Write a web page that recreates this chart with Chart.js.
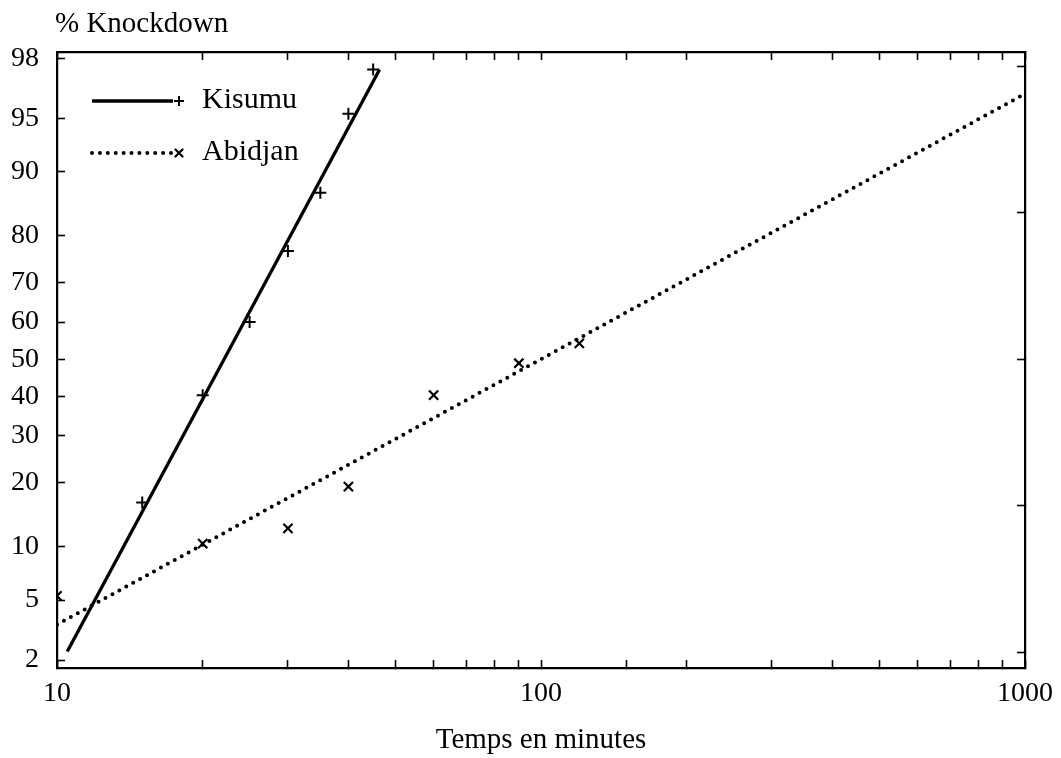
<!DOCTYPE html>
<html>
<head>
<meta charset="utf-8">
<title>Knockdown - Kisumu / Abidjan</title>
<script src="https://cdn.jsdelivr.net/npm/chart.js"></script>
<style>
  html, body { margin: 0; padding: 0; background: #fff; }
  #wrap { width: 1061px; height: 758px; position: relative; }
</style>
</head>
<body>
<div id="wrap"><canvas id="kdChart"></canvas></div>
<script>
// observed knockdown (%) against exposure time (min)
const kisumuTime = [15, 20, 25, 30, 35, 40, 45];
const kisumuPct = [16.4, 40.3, 60, 77, 87.2, 95.3, 97.6];
const abidjanTime = [10, 20, 30, 40, 60, 90, 120];
const abidjanPct = [5.3, 10.4, 12.4, 19.2, 40.3, 48.9, 54.3];

// fitted probit regression lines (end points)
const kisumuFitTime = [10.5, 46.4];
const kisumuFitPct = [2.3, 97.6];
const abidjanFitTime = [10, 1000];
const abidjanFitPct = [3.5, 96.5];

// axes
const yTicks = [2, 5, 10, 20, 30, 40, 50, 60, 70, 80, 90, 95, 98];
const yRange = [1.75, 98.2];
const probitUnitTicks = [3, 4, 5, 6, 7];
const xLabels = [10, 100, 1000];
const xRange = [10, 1000];

// inverse normal cdf (Acklam)
function probit(p) {
  const a = [-3.969683028665376e+01, 2.209460984245205e+02, -2.759285104469687e+02, 1.383577518672690e+02, -3.066479806614716e+01, 2.506628277459239e+00];
  const b = [-5.447609879822406e+01, 1.615858368580409e+02, -1.556989798598866e+02, 6.680131188771972e+01, -1.328068155288572e+01];
  const c = [-7.784894002430293e-03, -3.223964580411365e-01, -2.400758277161838e+00, -2.549732539343734e+00, 4.374664141464968e+00, 2.938163982698783e+00];
  const d = [7.784695709041462e-03, 3.224671290700398e-01, 2.445134137142996e+00, 3.754408661907416e+00];
  const lo = 0.02425;
  if (p < lo) {
    const q = Math.sqrt(-2 * Math.log(p));
    return (((((c[0]*q+c[1])*q+c[2])*q+c[3])*q+c[4])*q+c[5]) / ((((d[0]*q+d[1])*q+d[2])*q+d[3])*q+1);
  }
  if (p > 1 - lo) {
    const q = Math.sqrt(-2 * Math.log(1 - p));
    return -(((((c[0]*q+c[1])*q+c[2])*q+c[3])*q+c[4])*q+c[5]) / ((((d[0]*q+d[1])*q+d[2])*q+d[3])*q+1);
  }
  const q = p - 0.5, r = q * q;
  return (((((a[0]*r+a[1])*r+a[2])*r+a[3])*r+a[4])*r+a[5])*q / (((((b[0]*r+b[1])*r+b[2])*r+b[3])*r+b[4])*r+1);
}

function normCdf(z) {
  const t = 1 / (1 + 0.3275911 * Math.abs(z) / Math.SQRT2);
  const y = 1 - (((((1.061405429 * t - 1.453152027) * t) + 1.421413741) * t - 0.284496736) * t + 0.254829592) * t * Math.exp(-z * z / 2);
  return z >= 0 ? (1 + y) / 2 : (1 - y) / 2;
}

// percentage axis on probit paper
class ProbitScale extends Chart.LinearScale {
  configure() {
    super.configure();
    this._zlo = probit(this.min / 100);
    this._zhi = probit(this.max / 100);
  }
  getPixelForValue(v) {
    return this.getPixelForDecimal((probit(v / 100) - this._zlo) / (this._zhi - this._zlo));
  }
  getValueForPixel(px) {
    return 100 * normCdf(this._zlo + this.getDecimalForPixel(px) * (this._zhi - this._zlo));
  }
}
ProbitScale.id = 'probit';
ProbitScale.defaults = Chart.LinearScale.defaults;
Chart.register(ProbitScale);

const serif = '"Liberation Serif", "Times New Roman", serif';
const toPoints = (xs, ys) => xs.map((x, i) => ({ x: x, y: ys[i] }));

const legendItems = [
  { label: 'Kisumu', line: 1, mark: 0 },
  { label: 'Abidjan', line: 3, mark: 2 }
];

// y axis caption and in-plot legend
const overlayPlugin = {
  id: 'overlay',
  afterDraw(chart) {
    const { ctx, chartArea } = chart;
    const ds = chart.data.datasets;
    ctx.save();
    ctx.fillStyle = '#000';
    ctx.font = '29px ' + serif;
    ctx.textBaseline = 'alphabetic';
    ctx.textAlign = 'left';
    ctx.fillText('% Knockdown', chartArea.left - 2, chartArea.top - 20);

    legendItems.forEach((item, i) => {
      const y = chartArea.top + 49 + i * 52;
      const x0 = chartArea.left + 35;
      const x1 = chartArea.left + 120;
      const l = ds[item.line];
      ctx.strokeStyle = '#000';
      ctx.lineWidth = l.borderWidth;
      ctx.lineCap = l.borderCapStyle || 'butt';
      ctx.setLineDash(l.borderDash || []);
      ctx.beginPath();
      ctx.moveTo(x0, y);
      ctx.lineTo(x1 - 4, y);
      ctx.stroke();
      ctx.setLineDash([]);
      const m = ds[item.mark];
      ctx.lineWidth = m.pointBorderWidth;
      Chart.helpers.drawPoint(ctx, { pointStyle: m.pointStyle, radius: 5, borderWidth: m.pointBorderWidth, rotation: 0 }, x1 + 2, y);
      ctx.font = '30px ' + serif;
      ctx.textBaseline = 'middle';
      ctx.fillText(item.label, chartArea.left + 145, y - 1);
    });
    ctx.restore();
  }
};

const inwardGrid = {
  drawOnChartArea: false,
  drawTicks: true,
  tickLength: -8,
  tickColor: '#000',
  tickWidth: 1.6
};
const frame = { display: true, color: '#000', width: 2.2 };

new Chart(document.getElementById('kdChart'), {
  type: 'scatter',
  data: {
    datasets: [
      {
        label: 'Kisumu',
        data: toPoints(kisumuTime, kisumuPct),
        pointStyle: 'cross',
        pointRadius: 6,
        pointBorderWidth: 2,
        borderColor: '#000',
        backgroundColor: '#000',
        showLine: false
      },
      {
        label: 'Kisumu (fit)',
        data: toPoints(kisumuFitTime, kisumuFitPct),
        showLine: true,
        pointRadius: 0,
        borderColor: '#000',
        borderWidth: 3.3
      },
      {
        label: 'Abidjan',
        data: toPoints(abidjanTime, abidjanPct),
        pointStyle: 'crossRot',
        pointRadius: 6.5,
        pointBorderWidth: 2.2,
        borderColor: '#000',
        backgroundColor: '#000',
        showLine: false
      },
      {
        label: 'Abidjan (fit)',
        data: toPoints(abidjanFitTime, abidjanFitPct),
        showLine: true,
        pointRadius: 0,
        borderColor: '#000',
        borderWidth: 4,
        borderDash: [0, 7.9],
        borderCapStyle: 'round'
      }
    ]
  },
  options: {
    responsive: true,
    maintainAspectRatio: false,
    animation: false,
    layout: { padding: 0 },
    plugins: {
      legend: { display: false },
      tooltip: { enabled: false }
    },
    scales: {
      x: {
        type: 'logarithmic',
        position: 'bottom',
        min: xRange[0],
        max: xRange[1],
        grid: inwardGrid,
        border: frame,
        ticks: {
          autoSkip: false,
          maxRotation: 0,
          padding: 17,
          color: '#000',
          font: { family: serif, size: 28 },
          callback: v => xLabels.includes(v) ? String(v) : ''
        },
        title: {
          display: true,
          text: 'Temps en minutes',
          color: '#000',
          font: { family: serif, size: 29 },
          padding: 0
        },
        afterFit: s => { s.height = 90; s.paddingLeft = 0; s.paddingRight = 0; }
      },
      x2: {
        type: 'logarithmic',
        position: 'top',
        min: xRange[0],
        max: xRange[1],
        grid: inwardGrid,
        border: frame,
        ticks: { display: false, autoSkip: false },
        afterFit: s => { s.height = 52; s.paddingLeft = 0; s.paddingRight = 0; }
      },
      y: {
        type: 'probit',
        position: 'left',
        min: yRange[0],
        max: yRange[1],
        bounds: 'data',
        grid: inwardGrid,
        border: frame,
        afterBuildTicks: s => { s.ticks = yTicks.map(v => ({ value: v })); },
        ticks: {
          autoSkip: false,
          padding: 26,
          color: '#000',
          font: { family: serif, size: 28 },
          callback: v => String(v)
        },
        afterFit: s => { s.width = 57; s.paddingTop = 0; s.paddingBottom = 0; }
      },
      y2: {
        type: 'linear',
        position: 'right',
        min: probit(yRange[0] / 100) + 5,
        max: probit(yRange[1] / 100) + 5,
        bounds: 'data',
        grid: inwardGrid,
        border: frame,
        afterBuildTicks: s => { s.ticks = probitUnitTicks.map(v => ({ value: v })); },
        ticks: { display: false, autoSkip: false },
        afterFit: s => { s.width = 36; s.paddingTop = 0; s.paddingBottom = 0; }
      }
    }
  },
  plugins: [overlayPlugin]
});
</script>
</body>
</html>
